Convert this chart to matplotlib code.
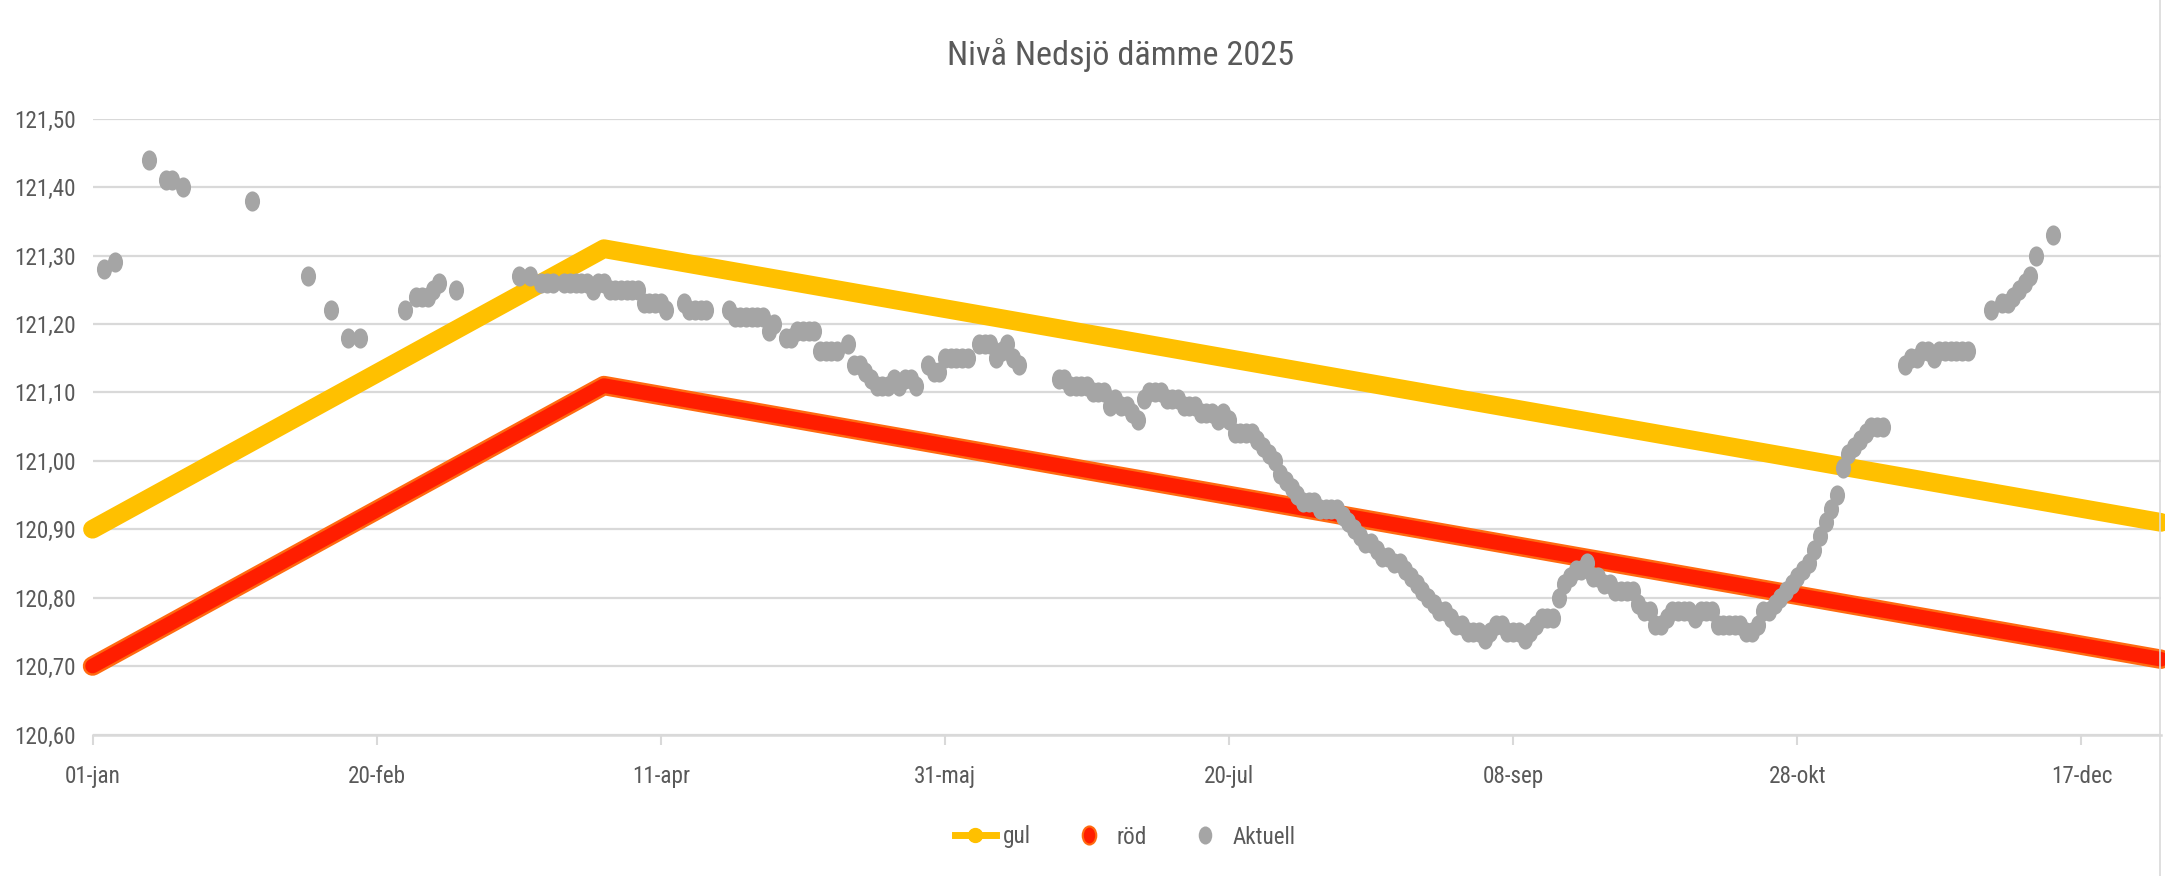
import numpy as np
import matplotlib
matplotlib.use("Agg")
import matplotlib.pyplot as plt
from matplotlib import font_manager as fm
from matplotlib.path import Path
from matplotlib.transforms import Affine2D
from matplotlib.lines import Line2D

# ---------------- data ----------------
title = "Nivå Nedsjö dämme 2025"
year_start = "2025-01-01"

# rule curves (break points)
rule_dates = ["2025-01-01", "2025-04-01", "2025-12-31"]
gul = [120.90, 121.31, 120.91]
rod = [120.70, 121.11, 120.71]

# measured level: day offset from 1 Jan and level (m)
aktuell_day = [
    2, 4, 10, 13, 14, 16, 28, 38, 42, 45, 47, 55, 57, 58, 59, 60, 61, 64,
    75, 77, 79, 80, 81, 83, 84, 85, 86, 87, 88, 89, 90, 91, 92, 93, 94, 95, 96,
    97, 98, 99, 100, 101, 104, 105, 106, 107, 108,
    112, 113, 114, 115, 116, 117, 118, 119, 120, 122, 123, 124, 125, 126, 127,
    128, 129, 130, 131, 133, 134, 135, 136, 137, 138, 139, 140, 141, 142, 143,
    144, 145, 147, 148, 149, 150, 151, 152, 153, 154, 156, 157, 158, 159, 160,
    161, 162, 163,
    170, 171, 172, 173, 174, 175, 176, 177, 178, 179, 180, 181, 182, 183, 184,
    185, 186, 187, 188, 189, 190, 191, 192, 193, 194, 195, 196, 197, 198, 199,
    200, 201, 202, 203, 204, 205, 206, 207, 208, 209, 210, 211, 212, 213, 214,
    215, 216, 217, 218, 219, 220, 221, 222, 223, 224, 225, 226, 227, 228, 229,
    230, 231, 232, 233, 234, 235, 236, 237, 238, 239, 240, 241, 242, 243, 244,
    245, 246, 247, 248, 249, 250, 251, 252, 253, 254, 255, 256, 257, 258, 259,
    260, 261, 262, 263, 264, 265, 266, 267, 268, 269, 270, 271, 272, 273, 274,
    275, 276, 277, 278, 279, 280, 281, 282, 283, 284, 285, 286, 287, 288, 289,
    290, 291, 292, 293, 294, 295, 296, 297, 298, 299, 300, 301, 302, 303, 304,
    305, 306, 307, 308, 309, 310, 311, 312, 313, 314, 315,
    319, 320, 321, 322, 323, 324, 325, 326, 327, 328, 329, 330,
    334, 336, 337, 338, 339, 340, 341, 342, 345,
]
aktuell = [
    121.28, 121.29, 121.44, 121.41, 121.41, 121.40, 121.38, 121.27, 121.22,
    121.18, 121.18, 121.22, 121.24, 121.24, 121.24, 121.25, 121.26, 121.25,
    121.27, 121.27, 121.26, 121.26, 121.26, 121.26, 121.26, 121.26, 121.26,
    121.26, 121.25, 121.26, 121.26, 121.25, 121.25, 121.25, 121.25, 121.25,
    121.25, 121.23, 121.23, 121.23, 121.23, 121.22, 121.23, 121.22, 121.22,
    121.22, 121.22,
    121.22, 121.21, 121.21, 121.21, 121.21, 121.21, 121.21, 121.19, 121.20,
    121.18, 121.18, 121.19, 121.19, 121.19, 121.19, 121.16, 121.16, 121.16,
    121.16, 121.17, 121.14, 121.14, 121.13, 121.12, 121.11, 121.11, 121.11,
    121.12, 121.11, 121.12, 121.12, 121.11, 121.14, 121.13, 121.13, 121.15,
    121.15, 121.15, 121.15, 121.15, 121.17, 121.17, 121.17, 121.15, 121.16,
    121.17, 121.15, 121.14,
    121.12, 121.12, 121.11, 121.11, 121.11, 121.11, 121.10, 121.10, 121.10,
    121.08, 121.09, 121.08, 121.08, 121.07, 121.06, 121.09, 121.10, 121.10,
    121.10, 121.09, 121.09, 121.09, 121.08, 121.08, 121.08, 121.07, 121.07,
    121.07, 121.06, 121.07, 121.06, 121.04, 121.04, 121.04, 121.04, 121.03,
    121.02, 121.01, 121.00, 120.98, 120.97, 120.96, 120.95, 120.94, 120.94,
    120.94, 120.93, 120.93, 120.93, 120.93, 120.92, 120.91, 120.90, 120.89,
    120.88, 120.88, 120.87, 120.86, 120.86, 120.85, 120.85, 120.84, 120.83,
    120.82, 120.81, 120.80, 120.79, 120.78, 120.78, 120.77, 120.76, 120.76,
    120.75, 120.75, 120.75, 120.74, 120.75, 120.76, 120.76, 120.75, 120.75,
    120.75, 120.74, 120.75, 120.76, 120.77, 120.77, 120.77, 120.80, 120.82,
    120.83, 120.84, 120.84, 120.85, 120.83, 120.83, 120.82, 120.82, 120.81,
    120.81, 120.81, 120.81, 120.79, 120.78, 120.78, 120.76, 120.76, 120.77,
    120.78, 120.78, 120.78, 120.78, 120.77, 120.78, 120.78, 120.78, 120.76,
    120.76, 120.76, 120.76, 120.76, 120.75, 120.75, 120.76, 120.78, 120.78,
    120.79, 120.80, 120.81, 120.82, 120.83, 120.84, 120.85, 120.87, 120.89,
    120.91, 120.93, 120.95, 120.99, 121.01, 121.02, 121.03, 121.04, 121.05,
    121.05, 121.05,
    121.14, 121.15, 121.15, 121.16, 121.16, 121.15, 121.16, 121.16, 121.16,
    121.16, 121.16, 121.16,
    121.22, 121.23, 121.23, 121.24, 121.25, 121.26, 121.27, 121.30, 121.33,
]

x_tick_dates = ["2025-01-01", "2025-02-20", "2025-04-11", "2025-05-31",
                "2025-07-20", "2025-09-08", "2025-10-28", "2025-12-17"]
x_tick_labels = ["01-jan", "20-feb", "11-apr", "31-maj",
                 "20-jul", "08-sep", "28-okt", "17-dec"]
y_ticks = [120.60, 120.70, 120.80, 120.90, 121.00, 121.10, 121.20, 121.30,
           121.40, 121.50]
series_names = ["gul", "röd", "Aktuell"]

# ---------------- style ----------------
names = {f.name for f in fm.fontManager.ttflist}
font = "DejaVu Sans"
scale = 0.72
for cand, sc in [("Liberation Sans Narrow", 1.0), ("Roboto Condensed", 0.95),
                 ("Open Sans Condensed", 0.95), ("Noto Sans Condensed", 0.95),
                 ("Lato", 0.85), ("Roboto", 0.8)]:
    if cand in names:
        font, scale = cand, sc
        break
plt.rcParams["font.family"] = [font, "DejaVu Sans"]

TXT = "#595959"
GRID = "#D9D9D9"
YEL = "#FFC000"
RED = "#FF1E00"
REDEDGE = "#FF6A10"
GREY = "#A5A5A5"

ell = Affine2D().scale(0.75, 1.0).transform_path(Path.unit_circle())

W, H = 2165, 876
fig = plt.figure(figsize=(W / 100, H / 100), dpi=100)
fig.patch.set_facecolor("white")
x0, x1 = 92.5, 2161
y_top, y_bot = 118.7, 734.5
ax = fig.add_axes([x0 / W, (H - y_bot) / H, (x1 - x0) / W, (y_bot - y_top) / H])

rd = np.array(rule_dates, dtype="datetime64[D]")
ax.plot(rd, gul, color=YEL, lw=13.5, solid_capstyle="round",
        solid_joinstyle="round", clip_on=False, zorder=2)
ax.plot(rd, rod, color=REDEDGE, lw=14.0, solid_capstyle="round",
        solid_joinstyle="round", clip_on=False, zorder=3)
ax.plot(rd, rod, color=RED, lw=10.5, solid_capstyle="round",
        solid_joinstyle="round", clip_on=False, zorder=3)

ad = np.datetime64(year_start) + np.array(aktuell_day).astype("timedelta64[D]")
ax.plot(ad, aktuell, linestyle="none", marker=ell, markersize=14.5,
        color=GREY, markeredgewidth=0, clip_on=False, zorder=4)

ax.set_xlim(np.datetime64("2025-01-01"), np.datetime64("2025-12-31"))
ax.set_ylim(y_ticks[0], y_ticks[-1])
ax.set_yticks(y_ticks)
ax.set_yticklabels([f"{v:.2f}".replace(".", ",") for v in y_ticks])
ax.set_xticks(np.array(x_tick_dates, dtype="datetime64[D]"))
ax.set_xticklabels(x_tick_labels)

fs = 17.5 * scale
ax.tick_params(axis="y", length=0, pad=12, labelsize=fs, labelcolor=TXT)
ax.tick_params(axis="x", length=7, width=1.5, color=GRID, pad=15,
               labelsize=fs, labelcolor=TXT)
ax.grid(axis="y", color=GRID, lw=1.6, zorder=0)
ax.set_axisbelow(True)
for s in ["top", "right", "left"]:
    ax.spines[s].set_visible(False)
ax.spines["bottom"].set_color(GRID)
ax.spines["bottom"].set_linewidth(1.8)

fig.text(1121 / W, 1 - 55 / H, title, ha="center", va="center",
         fontsize=26 * scale, color=TXT)

handles = [
    Line2D([0], [0], color=YEL, lw=5, marker="o", markersize=10,
           markerfacecolor=YEL, markeredgecolor=YEL),
    Line2D([0], [0], linestyle="none", marker=ell, markersize=13,
           markerfacecolor=RED, markeredgecolor=REDEDGE, markeredgewidth=1.5),
    Line2D([0], [0], linestyle="none", marker=ell, markersize=13,
           markerfacecolor=GREY, markeredgewidth=0),
]
leg = fig.legend(handles, series_names, loc="center", ncol=3,
                 bbox_to_anchor=(1125 / W, 1 - 837 / H), frameon=False,
                 fontsize=fs, handlelength=1.8, handletextpad=0.3,
                 columnspacing=1.6)
for t in leg.get_texts():
    t.set_color(TXT)

fig.add_artist(Line2D([2160 / W, 2160 / W], [0, 1], color=GRID, lw=1.2,
                      transform=fig.transFigure))

fig.savefig("out.png", dpi=100, facecolor="white")
